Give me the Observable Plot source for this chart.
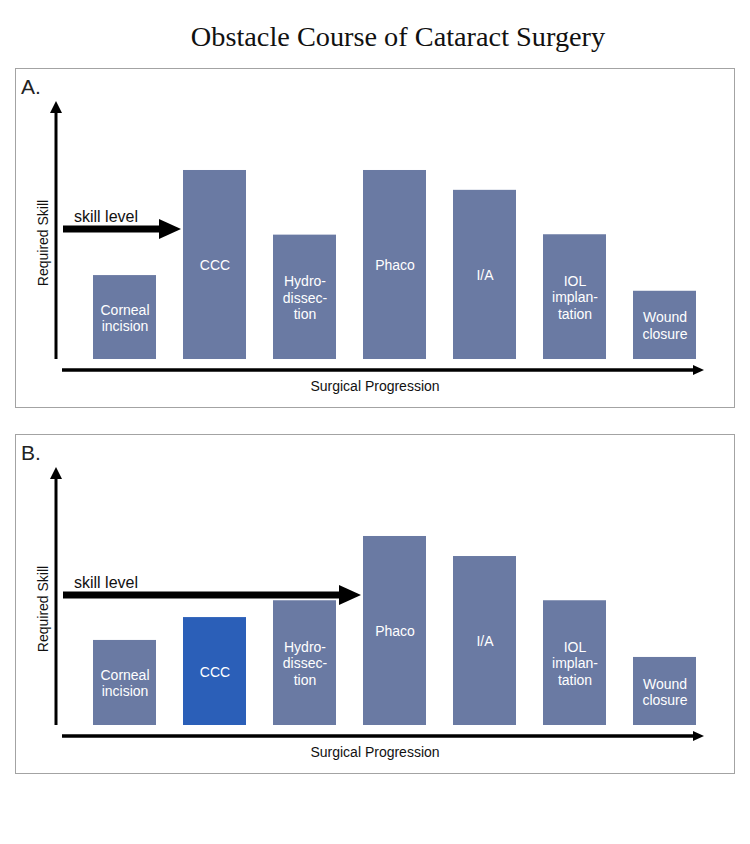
<!DOCTYPE html>
<html>
<head>
<meta charset="utf-8">
<script src="https://cdn.jsdelivr.net/npm/d3@7"></script>
<script src="https://cdn.jsdelivr.net/npm/@observablehq/plot@0.6"></script>
<style>
  body { margin: 0; background: #fff; }
  #root { position: relative; width: 750px; height: 844px; background: #fff; }
  .title { position: absolute; left: 0; width: 796px; top: 21px; line-height: 32px; text-align: center;
           font-family: "Liberation Serif", "Times New Roman", serif; font-size: 28.3px; color: #111; }
  .panel { position: absolute; left: 15px; width: 720px; height: 340px; box-sizing: border-box;
           border: 1px solid #a3a3a3; background: #fff; }
  .panel svg { position: absolute; left: 0; top: 0; }
</style>
</head>
<body>
<div id="root">
  <div class="title">Obstacle Course of Cataract Surgery</div>
  <div class="panel" id="panelA" style="top:68px"></div>
  <div class="panel" id="panelB" style="top:434px"></div>
</div>
<script>
// ---- data ----
const stages = ["Corneal incision", "CCC", "Hydrodissection", "Phaco", "I/A", "IOL implantation", "Wound closure"];
const stageLabels = ["Corneal\nincision", "CCC", "Hydro-\ndissec-\ntion", "Phaco", "I/A", "IOL\nimplan-\ntation", "Wound\nclosure"];
const requiredSkillA = [4.44, 10.0, 6.58, 10.0, 8.95, 6.6, 3.61];
const requiredSkillB = [4.5, 5.71, 6.6, 10.0, 8.94, 6.6, 3.6];
const skillLevel = 6.88;
const panelTags = ["A.", "B."];
const highlightedB = ["CCC"];
const yAxisLabel = "Required Skill";
const xAxisLabel = "Surgical Progression";
const skillText = "skill level";

// ---- styles ----
const barColor = "#6a7aa3";
const highlightColor = "#2b5fb8";
const W = 718, H = 338;

function arrow(g, x1, y1, x2, y2, width, headLen, headW) {
  const dx = x2 - x1, dy = y2 - y1, len = Math.hypot(dx, dy);
  const ux = dx / len, uy = dy / len, px = -uy, py = ux;
  const bx = x2 - ux * headLen, by = y2 - uy * headLen;
  g.append("line").attr("x1", x1).attr("y1", y1).attr("x2", bx + ux * 1).attr("y2", by + uy * 1)
    .attr("stroke", "#000").attr("stroke-width", width);
  g.append("path")
    .attr("d", `M${x2},${y2}L${bx + px * headW / 2},${by + py * headW / 2}L${bx - px * headW / 2},${by - py * headW / 2}Z`)
    .attr("fill", "#000");
}

function decorations(values, tag) {
  return (index, scales) => {
    const x = scales.x, y = scales.y;
    const g = d3.create("svg:g").attr("font-family", "'Liberation Sans', Arial, sans-serif")
      .attr("text-anchor", "start");
    const yAxisX = 40;
    // vertical axis arrow
    arrow(g, yAxisX, y(0), yAxisX, y(13.65), 3, 12, 12);
    // horizontal axis arrow
    const xAxisY = y(0) + 11;
    arrow(g, 46, xAxisY, 688, xAxisY, 3.5, 11, 10);
    // skill-level arrow stops at the first obstacle taller than the skill level
    const firstAbove = stages.find((s, i) => values[i] > skillLevel);
    const tipX = x(firstAbove) - 2;
    const sy = y(skillLevel);
    arrow(g, 47, sy, tipX, sy, 7, 22, 20);
    g.append("text").attr("x", 58).attr("y", sy - 7).attr("font-size", 16).attr("fill", "#111")
      .attr("text-anchor", "start").text(skillText);
    // axis labels
    g.append("text").attr("transform", `translate(27,174) rotate(-90)`)
      .attr("text-anchor", "middle").attr("dominant-baseline", "central")
      .attr("font-size", 14).attr("fill", "#111").text(yAxisLabel);
    g.append("text").attr("x", 359).attr("y", xAxisY + 21).attr("text-anchor", "middle")
      .attr("font-size", 14).attr("fill", "#111").text(xAxisLabel);
    // panel tag
    g.append("text").attr("x", 5).attr("y", 25).attr("font-size", 21).attr("fill", "#222")
      .attr("text-anchor", "start").attr("font-weight", 300).text(tag);
    return g.node();
  };
}

function panel(values, tag, highlighted) {
  const data = stages.map((s, i) => ({stage: s, label: stageLabels[i], value: values[i],
    hi: highlighted.includes(s)}));
  return Plot.plot({
    width: W, height: H,
    margin: 0,
    style: {fontFamily: "'Liberation Sans', Arial, sans-serif", background: "transparent"},
    x: {type: "band", domain: stages, range: [62.5, 694.6], paddingInner: 0.297, paddingOuter: 0.1485, axis: null},
    y: {domain: [0, 13.65], range: [290, 32], axis: null},
    marks: [
      Plot.barY(data, {x: "stage", y: "value", fill: d => d.hi ? highlightColor : barColor}),
      Plot.text(data, {x: "stage", y: d => d.value / 2, text: "label", fill: "white",
        fontSize: 14, lineHeight: 1.17}),
      decorations(values, tag)
    ]
  });
}

document.getElementById("panelA").appendChild(panel(requiredSkillA, panelTags[0], []));
document.getElementById("panelB").appendChild(panel(requiredSkillB, panelTags[1], highlightedB));
</script>
</body>
</html>
